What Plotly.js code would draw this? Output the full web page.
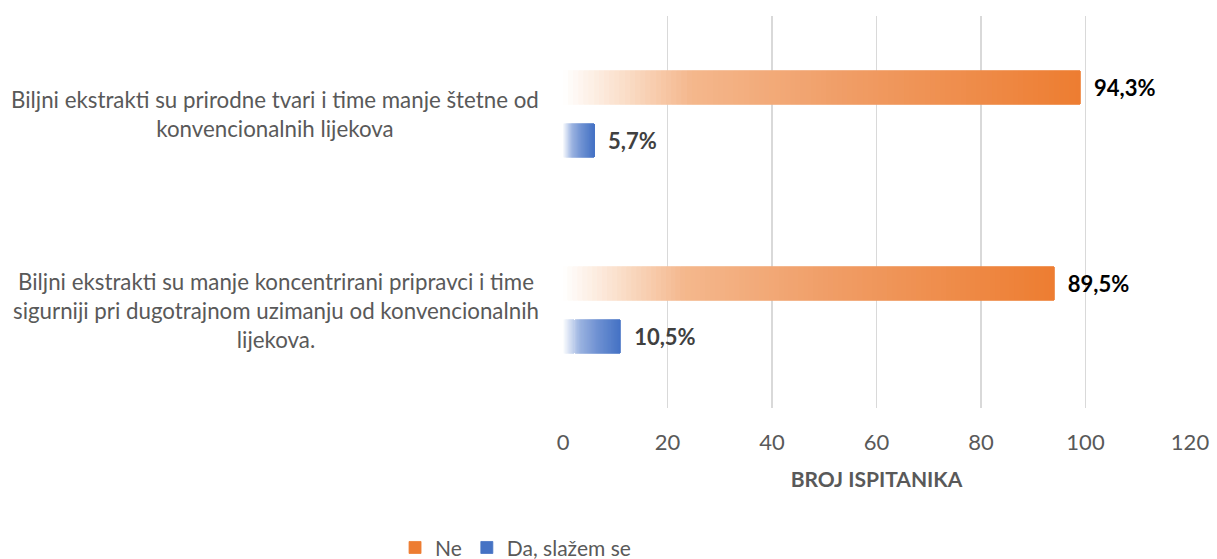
<!DOCTYPE html>
<html>
<head>
<meta charset="utf-8">
<script src="https://cdn.plot.ly/plotly-3.0.1.min.js"></script>
<style>
  html, body { margin: 0; padding: 0; background: #ffffff; }
  #chart { width: 1217px; height: 559px; }
  #chart .bars path { shape-rendering: crispEdges; }
</style>
</head>
<body>
<div id="chart"></div>
<script>
// ---- data ----
const categories = [
  "Biljni ekstrakti su prirodne tvari i time manje štetne od<br>konvencionalnih lijekova",
  "Biljni ekstrakti su manje koncentrirani pripravci i time<br>sigurniji pri dugotrajnom uzimanju od konvencionalnih<br>lijekova."
];
const seriesNames = ["Ne", "Da, slažem se"];
const neValues = [99, 94];
const daValues = [6, 11];
const neLabels = ["94,3%", "89,5%"];
const daLabels = ["5,7%", "10,5%"];
const xTickValues = [0, 20, 40, 60, 80, 100, 120];
const xAxisTitle = "BROJ ISPITANIKA";

// ---- styling helpers ----
const FONT = "Lato, 'Open Sans', sans-serif";
const TEXT_GREY = "#595959";
const SEGMENTS = 100;

function hexToRgb(h) {
  return [parseInt(h.slice(1, 3), 16), parseInt(h.slice(3, 5), 16), parseInt(h.slice(5, 7), 16)];
}
function gradientColor(stops, t) {
  for (let i = 1; i < stops.length; i++) {
    if (t <= stops[i][0]) {
      const a = stops[i - 1], b = stops[i];
      const f = (t - a[0]) / (b[0] - a[0]);
      const ca = hexToRgb(a[1]), cb = hexToRgb(b[1]);
      const c = ca.map((v, k) => Math.round(v + (cb[k] - v) * f));
      return `rgb(${c[0]},${c[1]},${c[2]})`;
    }
  }
  return stops[stops.length - 1][1];
}
const orangeStops = [[0, "#FFFFFF"], [0.1, "#FBE3D1"], [0.25, "#F4B78C"], [0.55, "#F09D66"], [1, "#ED7D31"]];
const blueStops = [[0, "#FFFFFF"], [0.1, "#DCE5F4"], [0.3, "#9BB3E0"], [0.6, "#6F91D2"], [1, "#4472C4"]];

function gradientTraces(values, labels, name, stops, group, textColor) {
  const traces = [];
  for (let i = 0; i < SEGMENTS; i++) {
    const last = i === SEGMENTS - 1;
    const t = (i + 0.5) / SEGMENTS;
    const col = gradientColor(stops, t);
    const tr = {
      type: "bar",
      orientation: "h",
      y: categories,
      x: values.map(v => v / SEGMENTS),
      base: values.map(v => v * i / SEGMENTS),
      offsetgroup: group,
      name: name,
      legendgroup: group,
      showlegend: last,
      hoverinfo: "skip",
      marker: { color: col, line: { width: 0.8, color: col } }
    };
    if (last) {
      tr.text = labels.map(s => "\u00a0\u00a0" + s);
      tr.textposition = "outside";
      tr.constraintext = "none";
      tr.cliponaxis = false;
      tr.outsidetextfont = { family: FONT, size: 22, color: textColor, weight: "bold" };
      tr.textfont = { family: FONT, size: 22, color: textColor, weight: "bold" };
    }
    traces.push(tr);
  }
  return traces;
}

const data = [].concat(
  gradientTraces(neValues, neLabels, seriesNames[0], orangeStops, "ne", "#000000"),
  gradientTraces(daValues, daLabels, seriesNames[1], blueStops, "da", "#404040")
);

const annotations = categories.map(c => ({
  xref: "paper", yref: "y", x: 0, y: c, xshift: -22,
  xanchor: "right", yanchor: "middle", align: "center",
  text: c, showarrow: false,
  font: { family: FONT, size: 22.3, color: TEXT_GREY }
}));

const layout = {
  width: 1217, height: 559,
  margin: { l: 563, r: 27, t: 16, b: 151, autoexpand: false },
  paper_bgcolor: "#ffffff", plot_bgcolor: "#ffffff",
  barmode: "group",
  bargap: 0.46,
  bargroupgap: 0.36,
  font: { family: FONT, color: TEXT_GREY },
  xaxis: {
    range: [0, 120], tickvals: xTickValues, ticktext: xTickValues.map(String),
    showgrid: true, gridcolor: "#D9D9D9", gridwidth: 1.3,
    zeroline: false, showline: false,
    ticks: "outside", ticklen: 15, tickcolor: "rgba(0,0,0,0)",
    tickfont: { family: FONT, size: 22, color: TEXT_GREY },
    title: { text: xAxisTitle, standoff: 17, font: { family: FONT, size: 21, color: TEXT_GREY, weight: "bold" } },
    automargin: false,
    fixedrange: true
  },
  yaxis: {
    type: "category", autorange: "reversed",
    showticklabels: false, showgrid: false, zeroline: false, showline: false,
    automargin: false,
    fixedrange: true
  },
  legend: {
    orientation: "h", xref: "container", yref: "container",
    x: 0.3246, xanchor: "left", y: 0.02, yanchor: "middle",
    font: { family: FONT, size: 21, color: TEXT_GREY },
    traceorder: "normal", itemwidth: 30, bgcolor: "rgba(0,0,0,0)"
  },
  annotations: annotations,
  showlegend: true
};

Plotly.newPlot("chart", data, layout, { displayModeBar: false, staticPlot: true });
</script>
</body>
</html>
